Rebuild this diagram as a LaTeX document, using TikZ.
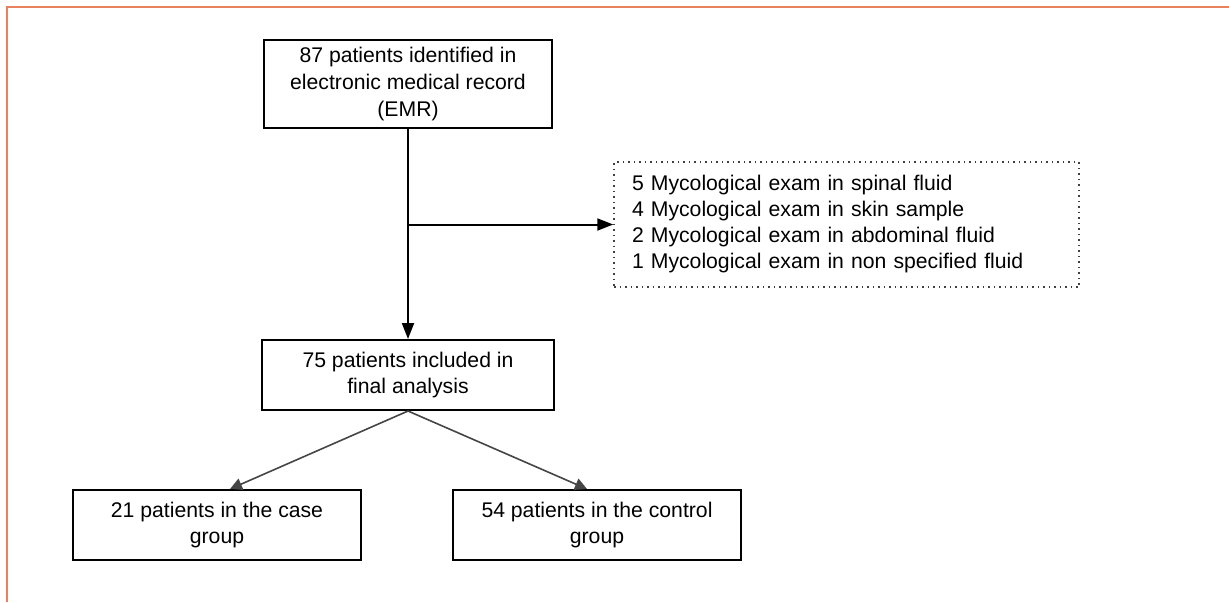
\documentclass[tikz,border=0pt]{standalone}
\usepackage{fontspec}
\setmainfont{Liberation Sans}
\usepackage{xcolor}
\usetikzlibrary{arrows.meta}
\definecolor{framecol}{HTML}{E8825E}
\definecolor{forkgray}{HTML}{454545}

\begin{document}
\begin{tikzpicture}[x=0.5pt,y=-0.5pt]
        \tikzset{box/.append style={rectangle,
                    draw=black, fill=white, line width=1pt,
                    minimum width=144pt, minimum height=35pt,
                    inner sep=0pt, align=center,
                    font=\fontsize{10.6pt}{13.4pt}\selectfont}}
        \tikzset{exclbox/.style={rectangle, draw=black!75, dotted, line width=0.75pt,
                    text width=214.5pt, minimum height=62.5pt,
                    inner xsep=9pt, inner ysep=0pt, align=left,
                    font=\fontsize{10.6pt}{13pt}\selectfont}}
        \tikzset{flow/.style={line width=1pt, -{Triangle[length=8pt,width=6pt]}}}
        \tikzset{fork/.style={draw=forkgray, line width=0.8pt,
                    -{Triangle[length=6pt,width=6pt]}}}
        \useasboundingbox (0,0) rectangle (1229,602);
        \draw[framecol, line width=1.2pt] (1229,7) -| (7,602);
        % boxes
        \node[box, minimum height=44pt] (emr) at (408,84) {87 patients identified in\\electronic medical record\\(EMR)};
        \node[exclbox] (excl) at (846.5,224.5) {5 Mycological exam in spinal fluid\\4 Mycological exam in skin sample\\2 Mycological exam in abdominal fluid\\1 Mycological exam in non specified fluid};
        \node[box, minimum width=146pt] (incl) at (408,375) {75 patients included in\\final analysis};
        \node[box] (case) at (217,525) {21 patients in the case\\group};
        \node[box] (ctrl) at (597,525) {54 patients in the control\\group};
        % arrows
        \coordinate (split) at (emr.south |- excl.west);
        \draw[flow] (emr.south) -- (incl.north);
        \draw[flow] (split) -- (excl.west);
        \draw[fork] (incl.south) -- ([xshift=6.5pt]case.north);
        \draw[fork] (incl.south) -- ([xshift=-5pt]ctrl.north);
    \end{tikzpicture}
\end{document}
